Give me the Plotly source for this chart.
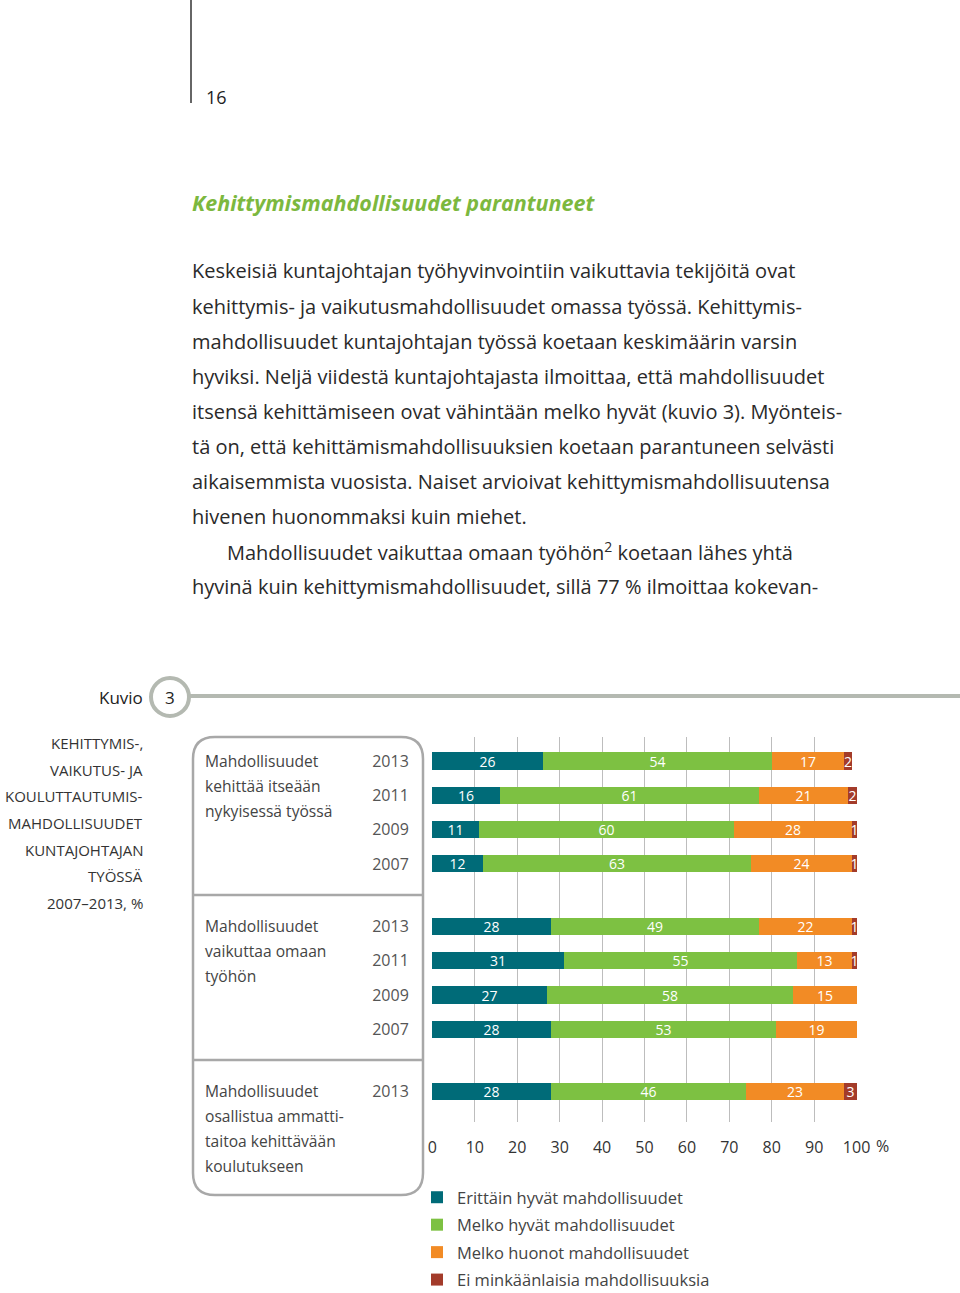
import plotly.graph_objects as go

# ---------------- data ----------------
groups = [
    "Mahdollisuudet<br>kehittää itseään<br>nykyisessä työssä",
    "Mahdollisuudet<br>vaikuttaa omaan<br>työhön",
    "Mahdollisuudet<br>osallistua ammatti-<br>taitoa kehittävään<br>koulutukseen",
]
group_years = [["2013", "2011", "2009", "2007"],
               ["2013", "2011", "2009", "2007"],
               ["2013"]]
series_names = ["Erittäin hyvät mahdollisuudet", "Melko hyvät mahdollisuudet",
                "Melko huonot mahdollisuudet", "Ei minkäänlaisia mahdollisuuksia"]
erittain_hyvat = [26, 16, 11, 12, 28, 31, 27, 28, 28]
melko_hyvat = [54, 61, 60, 63, 49, 55, 58, 53, 46]
melko_huonot = [17, 21, 28, 24, 22, 13, 15, 19, 23]
ei_mitaan = [2, 2, 1, 1, 1, 1, 0, 0, 3]
x_ticks = [0, 10, 20, 30, 40, 50, 60, 70, 80, 90, 100]

colors = ["#006b78", "#7dc142", "#f28b25", "#a33b2a"]

W, H = 960, 1293
def px(x): return x / W
def py(y): return 1 - y / H

# row positions (row index + group spacing)
GROUP_STEP = 4.82
positions, year_labels = [], []
for g, yrs in enumerate(group_years):
    for r, yr in enumerate(yrs):
        positions.append(g * GROUP_STEP + r)
        year_labels.append(yr)

fig = go.Figure()
for i, (name, vals, col) in enumerate(zip(series_names,
                           [erittain_hyvat, melko_hyvat, melko_huonot, ei_mitaan],
                           colors)):
    keep = [k for k, v in enumerate(vals) if v > 0]
    fig.add_trace(go.Bar(
        y=[positions[k] for k in keep], x=[vals[k] for k in keep],
        orientation="h", name=name, legendgroup=f"g{i}",
        marker=dict(color=col, line=dict(width=0)),
        width=0.5,
        text=[str(vals[k]) for k in keep],
        textposition="inside", insidetextanchor="middle", textangle=0,
        textfont=dict(color="white", size=14, family="Open Sans"),
        hoverinfo="skip",
    ))

# plot area: x 432..857, y 737..1122
ROW_PX = 34.3
y_top = (737 - 761) / ROW_PX
y_bot = (1122 - 761) / ROW_PX

fig.update_layout(
    width=W, height=H, margin=dict(l=0, r=0, t=0, b=0, autoexpand=False),
    paper_bgcolor="white", plot_bgcolor="white",
    barmode="stack", bargap=0,
    font=dict(family="Open Sans", color="#333"),
    uniformtext=dict(minsize=14, mode="show"),
    xaxis=dict(domain=[px(432), px(857)], range=[-0.1, 100.1], automargin=False,
               tickvals=x_ticks, ticktext=[str(t) for t in x_ticks],
               showgrid=True, gridcolor="#bdbdbd", gridwidth=1,
               zeroline=False, showline=False,
               ticks="outside", ticklen=11, tickcolor="rgba(0,0,0,0)",
               tickfont=dict(size=16, color="#333", family="Open Sans"),
               anchor="y"),
    yaxis=dict(domain=[py(1122), py(737)], range=[y_bot, y_top], automargin=False,
               tickvals=positions, ticktext=year_labels,
               showgrid=False, zeroline=False, showline=False,
               ticks="outside", ticklen=19, tickcolor="rgba(0,0,0,0)",
               tickfont=dict(size=16, color="#555", family="Open Sans")),
    legend=dict(x=px(417), y=py(1180), xanchor="left", yanchor="top",
                font=dict(size=16.5, color="#444", family="Open Sans"),
                bgcolor="rgba(0,0,0,0)", tracegroupgap=3, traceorder="grouped"),
    showlegend=True,
)

shapes = []
# page header vertical line
shapes.append(dict(type="line", xref="paper", yref="paper",
                   x0=px(191), x1=px(191), y0=py(0), y1=py(103),
                   line=dict(color="#333", width=1.5)))
# Kuvio line and circle
shapes.append(dict(type="line", xref="paper", yref="paper",
                   x0=px(189), x1=px(960), y0=py(696), y1=py(696),
                   line=dict(color="#b4b9b1", width=4)))
shapes.append(dict(type="circle", xref="paper", yref="paper",
                   x0=px(151), x1=px(189), y0=py(716), y1=py(678),
                   fillcolor="white", line=dict(color="#b4b9b1", width=4)))
# rounded box
bx0, bx1, by0, by1, rr = 193, 423, 737, 1195, 22
path = (f"M {px(bx0)},{py(by0 + rr)} Q {px(bx0)},{py(by0)} {px(bx0 + rr)},{py(by0)} "
        f"L {px(bx1 - rr)},{py(by0)} Q {px(bx1)},{py(by0)} {px(bx1)},{py(by0 + rr)} "
        f"L {px(bx1)},{py(by1 - rr)} Q {px(bx1)},{py(by1)} {px(bx1 - rr)},{py(by1)} "
        f"L {px(bx0 + rr)},{py(by1)} Q {px(bx0)},{py(by1)} {px(bx0)},{py(by1 - rr)} Z")
shapes.append(dict(type="path", xref="paper", yref="paper", path=path,
                   line=dict(color="#a8a8a8", width=2.5)))
for yy in (895, 1060):
    shapes.append(dict(type="line", xref="paper", yref="paper",
                       x0=px(bx0), x1=px(bx1), y0=py(yy), y1=py(yy),
                       line=dict(color="#a8a8a8", width=2.5)))
fig.update_layout(shapes=shapes)

ann = []
def text(x, y, s, size=16, color="#333", anchor="left", family="Open Sans"):
    ann.append(dict(x=px(x), y=py(y), xref="paper", yref="paper", text=s,
                    showarrow=False, xanchor=anchor, yanchor="middle",
                    font=dict(size=size, color=color, family=family)))

text(204, 97, "16", size=18, color="#222")
text(190, 202, "<b><i>Kehittymismahdollisuudet parantuneet</i></b>", size=21.5, color="#7cb83e")

body = [
    (190, "Keskeisiä kuntajohtajan työhyvinvointiin vaikuttavia tekijöitä ovat"),
    (190, "kehittymis- ja vaikutusmahdollisuudet omassa työssä. Kehittymis-"),
    (190, "mahdollisuudet kuntajohtajan työssä koetaan keskimäärin varsin"),
    (190, "hyviksi. Neljä viidestä kuntajohtajasta ilmoittaa, että mahdollisuudet"),
    (190, "itsensä kehittämiseen ovat vähintään melko hyvät (kuvio 3). Myönteis-"),
    (190, "tä on, että kehittämismahdollisuuksien koetaan parantuneen selvästi"),
    (190, "aikaisemmista vuosista. Naiset arvioivat kehittymismahdollisuutensa"),
    (190, "hivenen huonommaksi kuin miehet."),
    (225, "Mahdollisuudet vaikuttaa omaan työhön<sup>2</sup> koetaan lähes yhtä"),
    (190, "hyvinä kuin kehittymismahdollisuudet, sillä 77 % ilmoittaa kokevan-"),
]
for i, (x, s) in enumerate(body):
    text(x, 271 + i * 35.1, s, size=20, color="#2a2a2a")

text(145, 697, "Kuvio", size=17, color="#222", anchor="right")
text(170, 697, "3", size=17, color="#222", anchor="center")

title_lines = ["KEHITTYMIS-,", "VAIKUTUS- JA", "KOULUTTAUTUMIS-", "MAHDOLLISUUDET",
               "KUNTAJOHTAJAN", "TYÖSSÄ", "2007–2013, %"]
for i, s in enumerate(title_lines):
    text(145, 743 + i * 26.7, s, size=15, color="#333", anchor="right")

group_tops = [761, 926, 1091]
for top, g in zip(group_tops, groups):
    for j, line in enumerate(g.split("<br>")):
        text(203, top + j * 25, line, size=15.6, color="#444")

text(874, 1146, "%", size=16, color="#333")
fig.update_layout(annotations=ann)

fig.write_html("out.html", config={"displayModeBar": False},
               post_script="document.body.style.margin='0';document.body.style.padding='0';")
